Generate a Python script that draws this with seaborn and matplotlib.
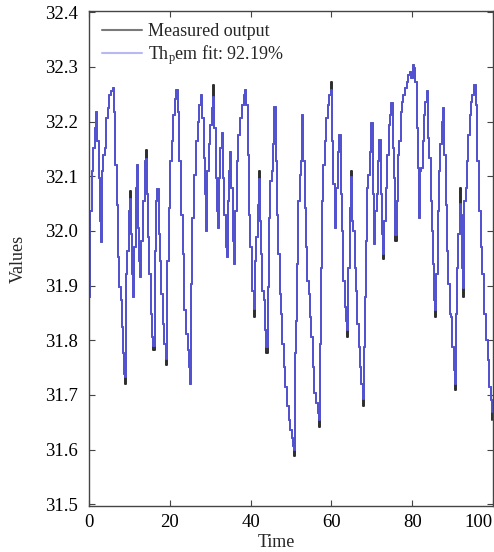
import matplotlib
matplotlib.use("Agg")
import matplotlib.pyplot as plt
import seaborn as sns
import pandas as pd
from matplotlib.lines import Line2D

# time stamps
time = [0.0, 0.25, 0.74, 1.07, 1.48, 1.73, 1.98, 2.39, 2.72, 2.96, 3.21, 3.54, 3.87, 4.2, 4.61, 5.02, 5.43, 5.84,
        6.25, 6.5, 6.83, 7.16, 7.49, 7.82, 8.07, 8.31, 8.72, 8.89, 9.14, 9.47, 9.79, 10.04, 10.37, 10.7, 10.86,
        11.19, 11.6, 11.93, 12.18, 12.42, 12.67, 12.92, 13.25, 13.74, 14.16, 14.32, 14.65, 14.9, 15.23, 15.56,
        15.88, 16.21, 16.54, 16.87, 17.2, 17.53, 17.94, 18.19, 18.6, 19.01, 19.34, 19.75, 20.08, 20.49, 20.9,
        21.32, 21.65, 21.98, 22.39, 22.8, 23.21, 23.62, 24.03, 24.44, 24.77, 25.02, 25.27, 25.6, 25.93, 26.42,
        26.91, 27.33, 27.74, 28.07, 28.4, 28.72, 28.97, 29.22, 29.71, 30.04, 30.45, 30.78, 31.03, 31.36, 31.69,
        31.85, 32.18, 32.51, 32.84, 33.17, 33.5, 33.83, 34.07, 34.32, 34.65, 34.9, 35.23, 35.56, 35.88, 36.21,
        36.54, 36.96, 37.37, 37.78, 38.27, 38.6, 38.93, 39.26, 39.59, 39.92, 40.25, 40.74, 40.99, 41.4, 41.73,
        41.98, 42.22, 42.55, 42.88, 43.21, 43.54, 43.87, 44.2, 44.44, 44.77, 45.19, 45.51, 45.84, 46.17, 46.5,
        46.83, 47.16, 47.49, 47.82, 48.15, 48.56, 48.97, 49.47, 49.79, 50.12, 50.45, 50.78, 51.03, 51.28, 51.52,
        51.85, 52.18, 52.51, 52.76, 53.09, 53.42, 53.74, 54.07, 54.4, 54.73, 55.06, 55.39, 55.8, 56.21, 56.63,
        56.87, 57.12, 57.37, 57.7, 58.02, 58.35, 58.68, 59.09, 59.51, 59.84, 60.16, 60.49, 60.82, 61.15, 61.56,
        61.98, 62.3, 62.63, 62.96, 63.29, 63.62, 63.95, 64.2, 64.53, 64.77, 65.1, 65.43, 65.76, 66.09, 66.42,
        66.75, 67.08, 67.41, 67.74, 67.98, 68.23, 68.48, 68.81, 69.14, 69.47, 69.88, 70.21, 70.54, 70.86, 71.19,
        71.52, 71.85, 72.18, 72.51, 72.76, 73.09, 73.5, 73.83, 74.16, 74.49, 74.81, 75.14, 75.47, 75.8, 76.13,
        76.46, 76.79, 77.12, 77.45, 77.78, 78.11, 78.6, 79.01, 79.42, 79.75, 80.08, 80.49, 80.74, 81.07, 81.4,
        81.65, 81.89, 82.22, 82.55, 82.88, 83.21, 83.54, 83.87, 84.2, 84.53, 84.86, 85.19, 85.51, 85.76, 86.01,
        86.34, 86.67, 87.0, 87.33, 87.65, 87.98, 88.31, 88.64, 88.97, 89.3, 89.63, 89.96, 90.29, 90.62, 90.95,
        91.19, 91.44, 91.77, 92.1, 92.43, 92.67, 92.92, 93.25, 93.58, 93.91, 94.24, 94.57, 94.9, 95.39, 95.72,
        96.13, 96.54, 96.95, 97.37, 97.78, 98.19, 98.68, 99.01, 99.42, 99.84]

# measured output
measured = [31.88, 32.036, 32.109, 32.152, 32.188, 32.218, 32.164, 32.097, 32.018, 31.979, 32.109, 32.139, 32.152,
            32.206, 32.224, 32.248, 32.255, 32.261, 32.218, 32.121, 32.048, 31.952, 31.897, 31.873, 31.824, 31.776,
            31.739, 31.721, 31.921, 31.964, 32.036, 32.073, 31.994, 31.921, 31.879, 31.97, 32.079, 32.121, 32.006,
            31.945, 31.915, 31.982, 32.055, 32.127, 32.148, 32.067, 31.988, 31.921, 31.848, 31.806, 31.782, 31.964,
            32.055, 32.076, 31.994, 31.945, 31.885, 31.83, 31.794, 31.755, 31.945, 32.042, 32.127, 32.164, 32.212,
            32.242, 32.258, 32.218, 32.127, 32.03, 31.958, 31.855, 31.812, 31.782, 31.752, 31.721, 31.903, 32.024,
            32.103, 32.164, 32.2, 32.23, 32.248, 32.206, 32.133, 32.067, 32.0, 32.109, 32.158, 32.194, 32.224,
            32.267, 32.188, 32.097, 32.036, 32.006, 32.097, 32.152, 32.179, 32.097, 32.03, 31.97, 31.952, 32.055,
            32.109, 32.145, 32.079, 31.982, 31.939, 32.036, 32.127, 32.176, 32.206, 32.23, 32.248, 32.258, 32.23,
            32.139, 32.03, 31.97, 31.891, 31.842, 31.945, 31.988, 32.048, 32.109, 32.018, 31.958, 31.891, 31.873,
            31.818, 31.776, 31.897, 32.024, 32.091, 32.109, 32.158, 32.227, 32.127, 32.03, 31.958, 31.885, 31.848,
            31.794, 31.752, 31.715, 31.679, 31.655, 31.636, 31.621, 31.606, 31.588, 31.776, 31.836, 31.939, 32.055,
            32.103, 32.127, 32.212, 32.127, 32.042, 31.97, 31.909, 31.885, 31.842, 31.806, 31.752, 31.703, 31.685,
            31.667, 31.642, 31.794, 31.933, 32.055, 32.121, 32.164, 32.206, 32.23, 32.248, 32.273, 32.164, 32.085,
            32.006, 32.079, 32.145, 32.176, 32.067, 32.0, 31.909, 31.861, 31.836, 31.806, 31.933, 32.042, 32.109,
            32.018, 32.0, 31.933, 31.891, 31.83, 31.788, 31.752, 31.721, 31.679, 31.788, 31.879, 31.982, 32.079,
            32.103, 32.145, 32.197, 32.067, 31.976, 32.036, 32.067, 32.127, 32.167, 32.067, 31.994, 31.948, 32.018,
            32.079, 32.139, 32.194, 32.212, 32.233, 32.152, 32.097, 31.982, 32.055, 32.139, 32.164, 32.218, 32.236,
            32.248, 32.261, 32.273, 32.285, 32.291, 32.279, 32.303, 32.297, 32.273, 32.188, 32.115, 32.024, 32.109,
            32.115, 32.164, 32.212, 32.236, 32.255, 32.17, 32.133, 32.055, 32.0, 31.939, 31.873, 31.842, 31.921,
            32.036, 32.109, 32.158, 32.2, 32.224, 32.139, 32.048, 31.964, 31.903, 31.848, 31.842, 31.788, 31.745,
            31.709, 31.848, 31.933, 31.994, 32.079, 32.03, 31.933, 31.879, 32.055, 32.079, 32.127, 32.176, 32.212,
            32.236, 32.248, 32.267, 32.23, 32.127, 32.036, 31.97, 31.921, 31.848, 31.8, 31.764, 31.715, 31.691,
            31.655]

# where the model fit differs visibly from the measurement (time -> fit value)
fit_differs = {8.89: 31.732, 10.04: 32.058, 14.16: 32.132, 15.88: 31.79, 19.01: 31.765, 30.78: 32.245,
               40.74: 31.858, 41.98: 32.095, 43.87: 31.788, 50.78: 31.600, 56.87: 31.655, 59.84: 32.258,
               63.95: 31.818, 64.77: 32.098, 67.74: 31.692, 72.76: 31.958, 75.8: 31.992, 85.76: 31.856,
               90.62: 31.72, 91.77: 32.05, 92.67: 31.895, 99.84: 31.668}

fit = [fit_differs.get(t, v) for t, v in zip(time, measured)]

y_ticks = [31.5, 31.6, 31.7, 31.8, 31.9, 32.0, 32.1, 32.2, 32.3, 32.4]
x_ticks = [0, 20, 40, 60, 80, 100]

df = pd.DataFrame({"Time": time, "measured": measured, "fit": fit})

sns.set_theme(style="ticks")
plt.rcParams["font.family"] = ["Liberation Serif", "DejaVu Serif"]
plt.rcParams["mathtext.fontset"] = "custom"
plt.rcParams["mathtext.rm"] = "Liberation Serif"
plt.rcParams["mathtext.it"] = "Liberation Serif:italic"

fig = plt.figure(figsize=(4.94, 5.52), dpi=100)
ax = fig.add_axes([0.1802, 0.0833, 0.8178, 0.8967])

sns.lineplot(data=df, x="Time", y="measured", ax=ax, color="#2e2e2e", lw=1.4,
             estimator=None, sort=False, drawstyle="steps-post")
sns.lineplot(data=df, x="Time", y="fit", ax=ax, color="#5a5af0", lw=1.4, alpha=0.85,
             estimator=None, sort=False, drawstyle="steps-post")

ax.set_xlim(0, 100)
ax.set_ylim(31.497, 32.402)
ax.set_xticks(x_ticks)
ax.set_xticklabels([str(x) for x in x_ticks])
ax.set_yticks(y_ticks)
ax.set_yticklabels(["%.1f" % y for y in y_ticks])
ax.get_xticklabels()[-1].set_horizontalalignment("right")

ax.tick_params(direction="in", length=4, width=0.8, top=True, right=True,
               labelsize=13.5, colors="#444444", labelcolor="black")
ax.tick_params(axis="x", pad=6)
ax.tick_params(axis="y", pad=8)
for s in ax.spines.values():
    s.set_color("#444444")
    s.set_linewidth(1.0)

ax.set_xlabel("Time", fontsize=13)
ax.set_ylabel("Values", fontsize=13)
ax.xaxis.set_label_coords(0.463, -0.057)
ax.yaxis.set_label_coords(-0.155, 0.5)

handles = [Line2D([], [], color="#7a7a7a", lw=1.5),
           Line2D([], [], color="#b8b8f2", lw=1.5)]
ax.legend(handles, ["Measured output", "Th$_\\mathrm{p}$em fit: 92.19%"],
          loc="upper left", bbox_to_anchor=(0.032, 0.976), borderaxespad=0, borderpad=0,
          frameon=False, fontsize=13, handlelength=2.2, handletextpad=0.35, labelspacing=0.2)

fig.savefig("out.png", dpi=100)
